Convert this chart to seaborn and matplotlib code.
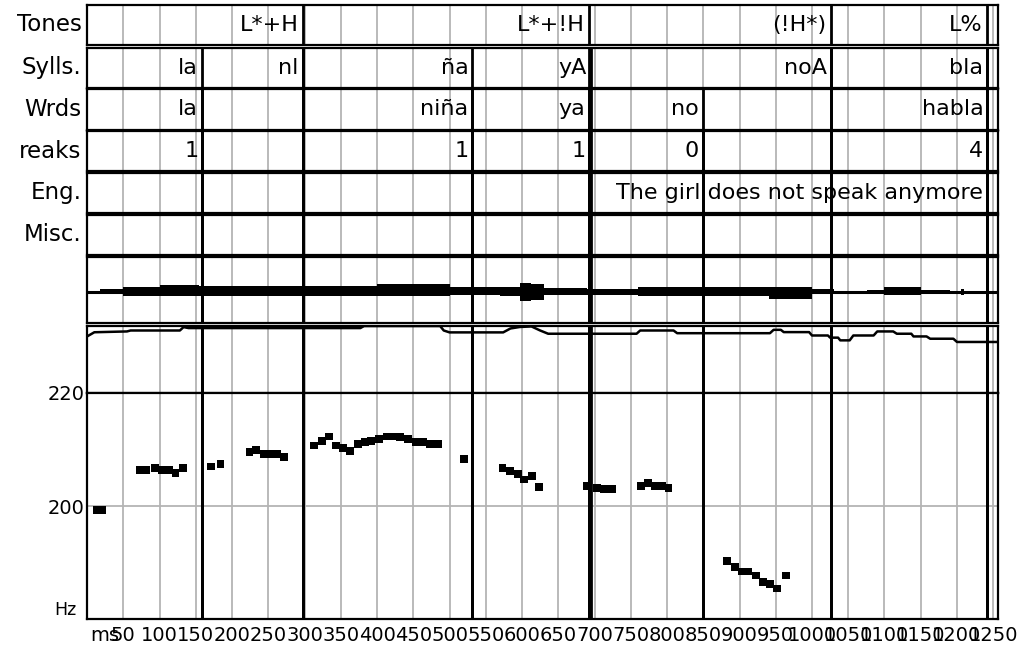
import matplotlib
matplotlib.use('Agg')
import numpy as np
import matplotlib.pyplot as plt
import seaborn as sns

sns.set_style('white')
plt.rcParams['font.family'] = ['DejaVu Sans']
plt.rcParams['text.color'] = 'black'
plt.rcParams['xtick.color'] = 'black'
plt.rcParams['ytick.color'] = 'black'

# annotation tiers (boundary in ms, label ends at the boundary)
tier_names = ['Tones', 'Sylls.', 'Wrds', 'reaks', 'Eng.', 'Misc.']
tones_ms = [297.5, 692, 1026, 1241]
tones_lab = ['L*+H', 'L*+!H', '(!H*)', 'L%']
sylls_ms = [159, 297.5, 531.6, 695, 1026, 1242]
sylls_lab = ['la', 'nl', 'ña', 'yA', 'noA', 'bla']
words_ms = [159, 531.6, 693, 849, 1242]
words_lab = ['la', 'niña', 'ya', 'no', 'habla']
breaks_ms = [159, 531.6, 693, 849, 1242]
breaks_lab = ['1', '1', '1', '0', '4']
eng_ms = [1242]
eng_lab = ['The girl does not speak anymore']
misc_ms = []
misc_lab = []

# waveform envelope (step start in ms, amplitude above / below baseline)
wave_ms = [0, 18, 50, 100, 155, 300, 400, 500, 570, 597, 612, 630, 690, 760,
           846, 940, 1000, 1030, 1048, 1076, 1100, 1150, 1190, 1205, 1209, 1215, 1257]
wave_top = [0, 3, 5, 7, 6.5, 6, 8, 5, 5, 9.5, 8.5, 4.5, 3.5, 5.5,
            5, 5, 3, 1, 0, 2, 5, 2, 0, 3, 0, 0, 0]
wave_bot = [0, 2, 4, 4, 3.5, 3.5, 4, 2.7, 4, 9, 7.5, 3, 3, 4,
            4, 6.5, 2, 1, 0, 2, 3, 2, 0, 3, 0, 0, 0]

# intensity contour (dB)
int_ms = [0, 10, 55, 60, 128, 133, 140, 377, 382, 487, 492, 500, 574, 584, 597,
          613, 625, 636, 758, 763, 809, 814, 942, 947, 957, 961, 996, 1000, 1022,
          1025, 1036, 1039, 1052, 1057, 1085, 1090, 1112, 1117, 1137, 1140, 1158,
          1163, 1195, 1200, 1257]
int_db = [71.9, 75.0, 75.6, 76.3, 76.3, 78.8, 78.1, 78.1, 79.6, 79.6, 76.3, 74.9, 74.9, 77.8, 78.9,
          79.3, 76.3, 73.9, 73.9, 76.3, 76.3, 74.3, 74.3, 76.8, 76.8, 75.1, 75.1, 72.6, 72.6,
          71.0, 71.0, 69.0, 69.0, 72.6, 72.6, 75.6, 75.6, 73.9, 73.9, 71.9, 71.9,
          70.2, 70.2, 67.8, 67.8]

# pitch track
pitch_ms = [14, 21, 73, 82, 94, 103, 113, 122, 132, 171, 184, 224, 233, 244, 253, 262, 272,
            313, 324, 334, 343, 353, 363, 374, 383, 392, 403, 413, 423, 432, 443, 453, 463,
            473, 484, 520, 573, 583, 594, 603, 614, 623, 690, 703, 713, 724, 764, 774, 784,
            793, 802, 883, 894, 903, 912, 923, 932, 942, 952, 964]
pitch_hz = [199.3, 199.3, 206.3, 206.3, 206.7, 206.3, 206.3, 205.8, 206.8, 207.0, 207.4,
            209.5, 209.9, 209.2, 209.2, 209.2, 208.7,
            210.7, 211.5, 212.3, 210.7, 210.2, 209.8, 211.0, 211.4, 211.5, 211.8, 212.3, 212.3,
            212.2, 211.8, 211.4, 211.4, 211.0, 211.0, 208.3,
            206.7, 206.2, 205.6, 204.7, 205.3, 203.3, 203.6, 203.2, 203.0, 203.0,
            203.6, 204.0, 203.6, 203.6, 203.2,
            190.3, 189.2, 188.4, 188.4, 187.7, 186.5, 186.2, 185.4, 187.7]

grid_ms = list(range(50, 1251, 50))
xtick_ms = [25] + grid_ms
xtick_lab = ['ms'] + [str(t) for t in grid_ms]

W, H = 1018, 650
X0, X1 = 87.1, 998.3


def box(top, bottom):
    return [X0 / W, 1 - bottom / H, (X1 - X0) / W, (bottom - top) / H]


fig = plt.figure(figsize=(10.18, 6.5), dpi=100)

tier_rows = [(5, 44.5), (47.5, 87.5), (89, 129.5), (131, 171), (173, 213), (215, 255)]
panel_rows = [(257, 323), (325.5, 393), (393, 619)]
axes = [fig.add_axes(box(t, b)) for t, b in tier_rows + panel_rows]

tiers = [(tones_ms, tones_lab), (sylls_ms, sylls_lab), (words_ms, words_lab),
         (breaks_ms, breaks_lab), (eng_ms, eng_lab), (misc_ms, misc_lab)]

for ax in axes:
    ax.set_xlim(0, 1257)
    ax.set_xticks([])
    ax.set_yticks([])
    for sp in ax.spines.values():
        sp.set_color('black')
        sp.set_linewidth(1.6)
    for g in grid_ms:
        ax.axvline(g, color='#b4b4b4', lw=1.3, zorder=0)

# boundaries run from their own tier down through every panel below it
for i, (bounds, labels) in enumerate(tiers):
    for ax in axes[i:]:
        for b in bounds:
            ax.axvline(b, color='black', lw=2, zorder=3)
    ax = axes[i]
    ax.set_ylim(0, 1)
    for b, lab in zip(bounds, labels):
        ax.annotate(lab, xy=(b, 0.5), xycoords=('data', 'axes fraction'),
                    xytext=(-3, 0), textcoords='offset points',
                    ha='right', va='center', fontsize=16, zorder=4)
    ax.text(-0.006, 0.5, tier_names[i], transform=ax.transAxes,
            ha='right', va='center', fontsize=16.5)

# waveform
aw = axes[6]
aw.set_ylim(-30.7, 35.3)
aw.fill_between(wave_ms, [-v for v in wave_bot], wave_top, step='post',
                color='black', lw=0, zorder=2)
aw.axhline(0, color='black', lw=2.2, zorder=2)

# intensity
ai = axes[7]
ai.set_ylim(30, 80)
sns.lineplot(x=int_ms, y=int_db, ax=ai, color='black', lw=1.8, zorder=2)

# pitch
ap = axes[8]
ap.set_ylim(180, 220)
ap.axhline(200, color='#b4b4b4', lw=1.3, zorder=0)
sns.scatterplot(x=pitch_ms, y=pitch_hz, ax=ap, marker='s', s=32,
                color='black', edgecolor='none', zorder=5)
ap.set_xticks(xtick_ms)
ap.set_xticklabels(xtick_lab)
ap.set_yticks([200, 220])
ap.set_yticklabels(['200', '220'])
ap.tick_params(axis='x', length=0, pad=5, labelsize=14)
ap.tick_params(axis='y', length=0, pad=2, labelsize=14)
ap.text(-0.012, 0.0, 'Hz', transform=ap.transAxes, ha='right', va='bottom', fontsize=12.5)

fig.savefig('out.png', dpi=100)
